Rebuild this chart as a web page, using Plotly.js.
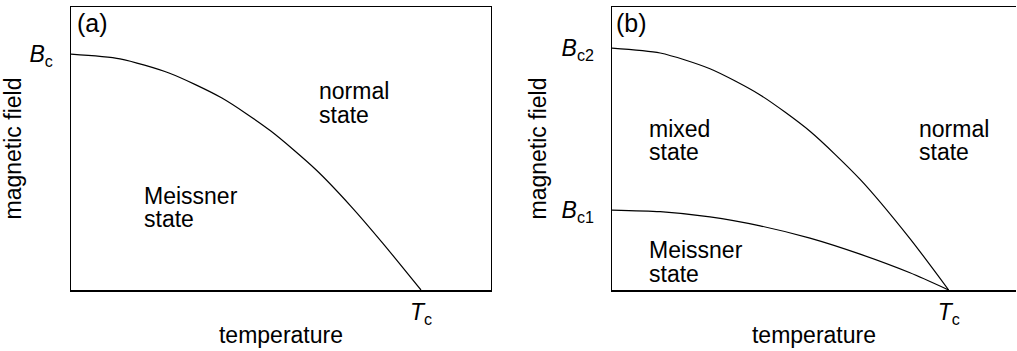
<!DOCTYPE html>
<html>
<head>
<meta charset="utf-8">
<script src="https://cdn.plot.ly/plotly-3.0.1.min.js"></script>
<style>html,body{margin:0;padding:0;background:#fff;}#chart{width:1017px;height:351px;}</style>
</head>
<body>
<div id="chart"></div>
<script>
// Panel (a): single critical field curve (temperature in units of Tc)
var tempA = [0, 0.14, 0.28, 0.43, 0.57, 0.70, 0.80, 0.89, 1.0];
var fieldA = [1.0, 0.98, 0.92, 0.815, 0.675, 0.51, 0.355, 0.20, 0];

// Panel (b): upper (Bc2) and lower (Bc1) critical field curves
var tempB = [0, 0.143, 0.291, 0.44, 0.588, 0.737, 0.885, 1.0];
var fieldBc2 = [1.026, 1.005, 0.938, 0.827, 0.673, 0.469, 0.218, 0];
var fieldBc1 = [0.339, 0.332, 0.310, 0.272, 0.220, 0.152, 0.073, 0];

// Tick values / labels
var tickA_y = [1.0], tickA_yText = ['<i>B</i><sub>c</sub>'];
var tickB_y = [0.339, 1.026], tickB_yText = ['<i>B</i><sub>c1</sub>', '<i>B</i><sub>c2</sub>'];
var tickX = [1.0], tickXText = ['<i>T</i><sub>c</sub>'];

// Region labels
var labelsA = [
  {t: 'normal', x: 0.702, y: 0.844}, {t: 'state', x: 0.702, y: 0.742},
  {t: 'Meissner', x: 0.202, y: 0.399}, {t: 'state', x: 0.202, y: 0.301}
];
var labelsB = [
  {t: 'mixed', x: 0.103, y: 0.684}, {t: 'state', x: 0.103, y: 0.585},
  {t: 'normal', x: 0.905, y: 0.684}, {t: 'state', x: 0.905, y: 0.585},
  {t: 'Meissner', x: 0.103, y: 0.168}, {t: 'state', x: 0.103, y: 0.069}
];

var FONT = 'Liberation Sans, Arial, Helvetica, sans-serif';
var FS = 23;
var lineStyle = {color: '#000', width: 1.2, shape: 'spline', smoothing: 0.7};

var traces = [
  {x: tempA, y: fieldA, xaxis: 'x', yaxis: 'y', mode: 'lines', line: lineStyle, hoverinfo: 'skip'},
  {x: tempB, y: fieldBc2, xaxis: 'x2', yaxis: 'y2', mode: 'lines', line: lineStyle, hoverinfo: 'skip'},
  {x: tempB, y: fieldBc1, xaxis: 'x2', yaxis: 'y2', mode: 'lines', line: lineStyle, hoverinfo: 'skip'}
];

function xax(domain, anchor) {
  return {
    domain: domain, anchor: anchor, range: [0, 1.2],
    showgrid: false, zeroline: false, showline: true, linecolor: '#000', linewidth: 1.5, mirror: true,
    tickvals: tickX, ticktext: tickXText, ticks: 'outside', ticklen: 1, tickcolor: 'rgba(0,0,0,0)',
    tickfont: {family: FONT, size: FS, color: '#000'},
    title: {text: 'temperature', font: {family: FONT, size: FS, color: '#000'}, standoff: 0},
    fixedrange: true
  };
}
function yax(anchor, vals, texts, mirror) {
  return {
    anchor: anchor, domain: [0, 1], range: [0, 1.2],
    showgrid: false, zeroline: false, showline: true, linecolor: '#000', linewidth: 1.5, mirror: mirror,
    tickvals: vals, ticktext: texts, ticks: 'outside', ticklen: 12, tickcolor: 'rgba(0,0,0,0)',
    tickfont: {family: FONT, size: FS, color: '#000'},
    title: {text: 'magnetic field', font: {family: FONT, size: FS, color: '#000'}, standoff: 8},
    fixedrange: true
  };
}

var annotations = [];
labelsA.forEach(function (l) {
  annotations.push({xref: 'x', yref: 'y', x: l.x, y: l.y, text: l.t, showarrow: false,
    xanchor: 'left', yanchor: 'middle', font: {family: FONT, size: FS, color: '#000'}});
});
labelsB.forEach(function (l) {
  annotations.push({xref: 'x2', yref: 'y2', x: l.x, y: l.y, text: l.t, showarrow: false,
    xanchor: 'left', yanchor: 'middle', font: {family: FONT, size: FS, color: '#000'}});
});
annotations.push({xref: 'x domain', yref: 'y domain', x: 0.01, y: 1.0, text: '(a)', showarrow: false,
  xanchor: 'left', yanchor: 'top', font: {family: FONT, size: 25, color: '#000'}});
annotations.push({xref: 'x2 domain', yref: 'y2 domain', x: 0.005, y: 1.0, text: '(b)', showarrow: false,
  xanchor: 'left', yanchor: 'top', font: {family: FONT, size: 25, color: '#000'}});

var layout = {
  width: 1017, height: 351,
  margin: {l: 71, r: 1, t: 7, b: 61, pad: 0},
  paper_bgcolor: '#fff', plot_bgcolor: '#fff',
  showlegend: false,
  font: {family: FONT, color: '#000'},
  xaxis: xax([0, 0.4444], 'y'),
  yaxis: yax('x', tickA_y, tickA_yText, true),
  xaxis2: xax([0.5725, 1], 'y2'),
  yaxis2: yax('x2', tickB_y, tickB_yText, false),
  annotations: annotations
};

Plotly.newPlot('chart', traces, layout, {staticPlot: true, displayModeBar: false});
</script>
</body>
</html>
